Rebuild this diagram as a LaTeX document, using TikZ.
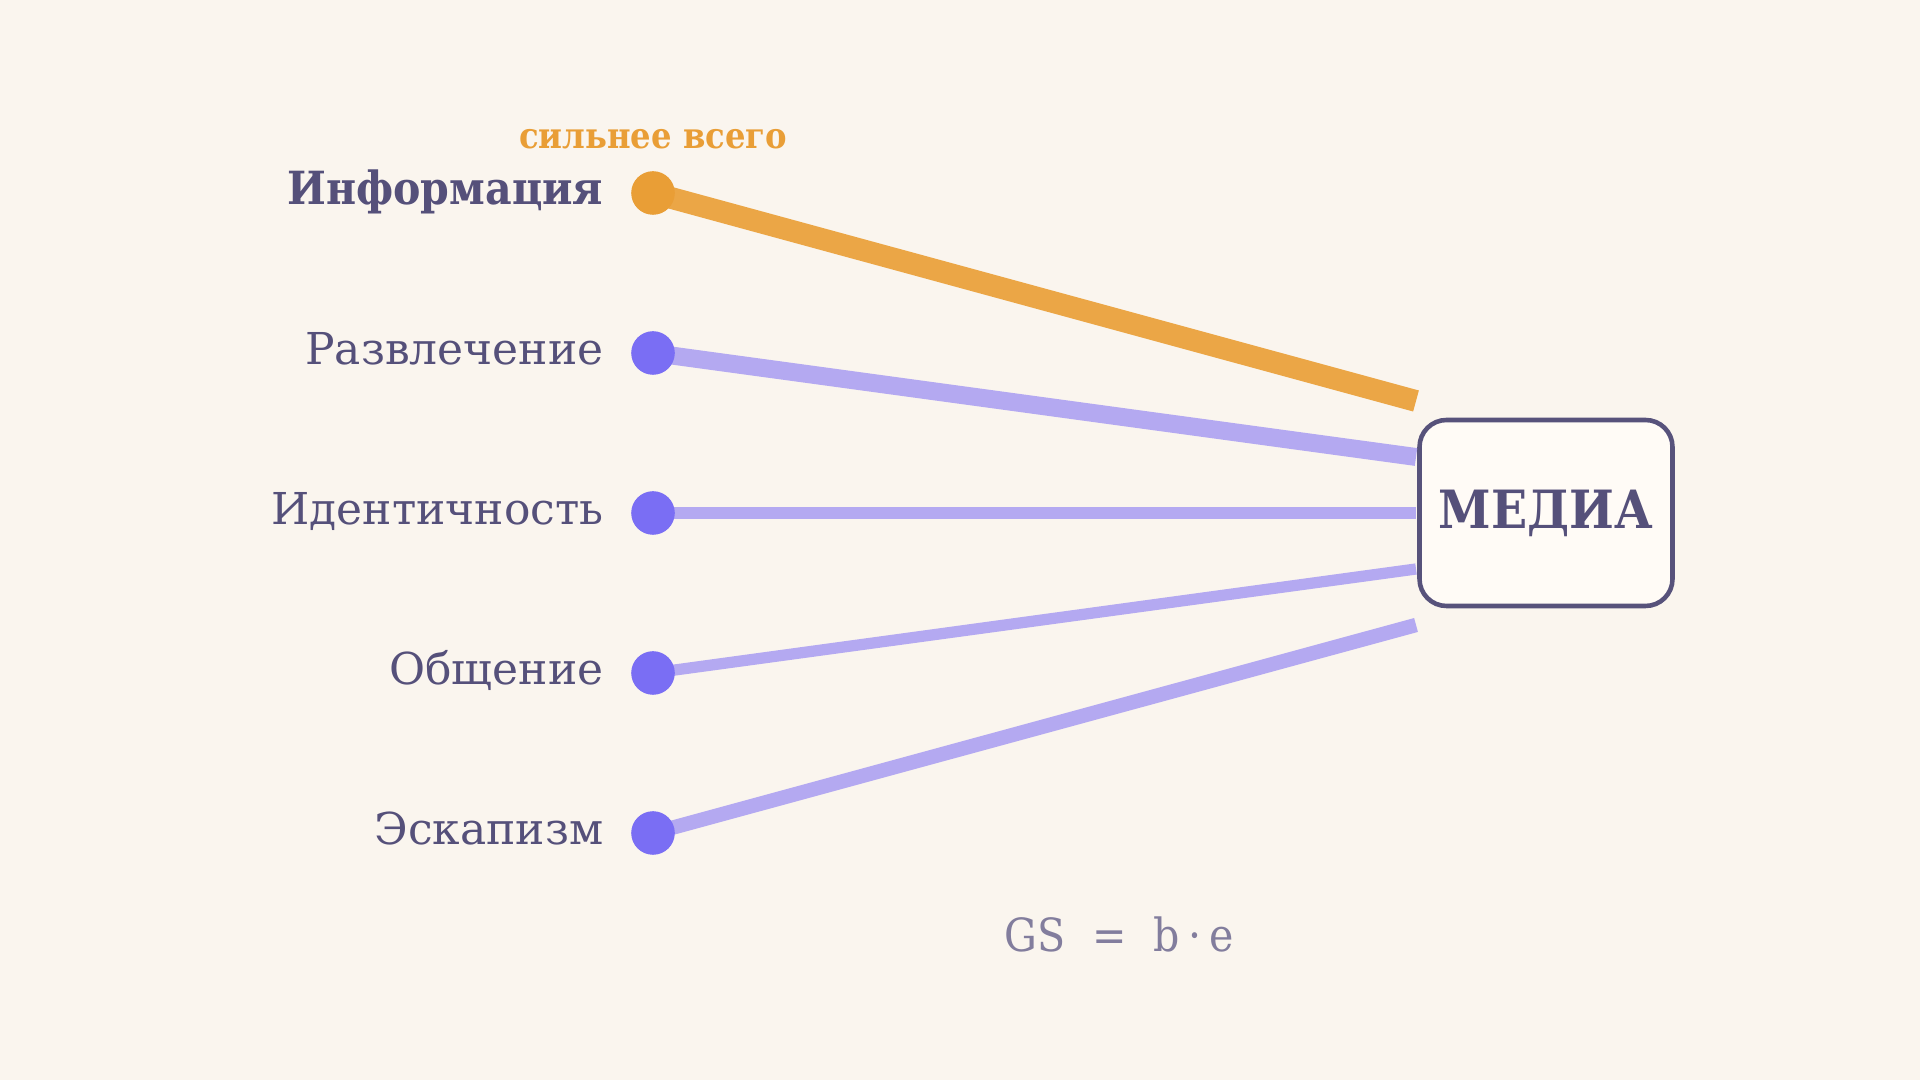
\documentclass[tikz,border=0pt]{standalone}
\usepackage{fontspec}
\usepackage{tkz-euclide}
\setmainfont{DejaVu Serif}
\newfontfamily\narrowserif[FakeStretch=0.9]{DejaVu Serif}

\definecolor{bgcol}{HTML}{FAF5EE}
\definecolor{inkcol}{HTML}{55507A}
\definecolor{orline}{HTML}{EBA646}
\definecolor{ordot}{HTML}{E99E36}
\definecolor{violine}{HTML}{B4A9F1}
\definecolor{viodot}{HTML}{7A6EF4}
\definecolor{boxfill}{HTML}{FFFBF6}
\definecolor{boxdraw}{HTML}{57527B}
\definecolor{formcol}{HTML}{827D9D}

\tikzset{
  lbl/.style={anchor=base east, inner sep=0pt, text=inkcol, font=\fontsize{12.5}{15}\selectfont},
  mediabox/.style={draw=boxdraw, fill=boxfill, line width=1.3pt, rounded corners=0.27cm,
    minimum width=2.53cm, minimum height=1.86cm, inner sep=0pt, text=inkcol,
    font=\narrowserif\fontsize{15}{18}\bfseries\selectfont},
  link/.style={line cap=butt, line width=#1}
}

\begin{document}
\begin{tikzpicture}
                \fill[bgcol] (0,0) rectangle (19.2,10.8);
                \useasboundingbox (0,0) rectangle (19.2,10.8);
                \tkzDefPoints{6.53/8.87/A,6.53/7.27/B,6.53/5.67/C,6.53/4.07/D,6.53/2.47/E}
                \tkzDefPoints{14.16/6.79/A1,14.16/6.23/B1,14.16/5.67/C1,14.16/5.11/D1,14.16/4.55/E1}
                \node[mediabox] (M) at (15.46,5.67) {МЕДИА};
                \tkzDrawSegment[orline,link=6.2pt](A,A1)
                \tkzDrawSegment[violine,link=5.1pt](B,B1)
                \tkzDrawSegment[violine,link=3.3pt](C,C1)
                \tkzDrawSegment[violine,link=3.2pt](D,D1)
                \tkzDrawSegment[violine,link=4.1pt](E,E1)
                \tkzDrawPoints[size=12,color=ordot,fill=ordot](A)
                \tkzDrawPoints[size=12,color=viodot,fill=viodot](B,C,D,E)
                \node[lbl,font=\narrowserif\fontsize{13}{15}\bfseries\selectfont] (lA) at ([xshift=-0.49cm,yshift=-0.12cm]A) {Информация};
                \node[lbl] (lB) at ([xshift=-0.49cm,yshift=-0.12cm]B) {Развлечение};
                \node[lbl] (lC) at ([xshift=-0.49cm,yshift=-0.12cm]C) {Идентичность};
                \node[lbl] (lD) at ([xshift=-0.49cm,yshift=-0.12cm]D) {Общение};
                \node[lbl] (lE) at ([xshift=-0.49cm,yshift=-0.12cm]E) {Эскапизм};
                \node[anchor=base, inner sep=0pt, text=ordot, font=\narrowserif\fontsize{10.2}{12}\bfseries\selectfont] (top) at ([yshift=0.44cm]A) {сильнее всего};
                \node[anchor=base, inner sep=0pt, text=formcol, font=\narrowserif\fontsize{13}{16}\selectfont] (gs) at (11.19,1.28) {GS\hspace{0.27cm}=\hspace{0.27cm}b\hspace{0.08cm}·\hspace{0.08cm}e};
            \end{tikzpicture}
\end{document}
